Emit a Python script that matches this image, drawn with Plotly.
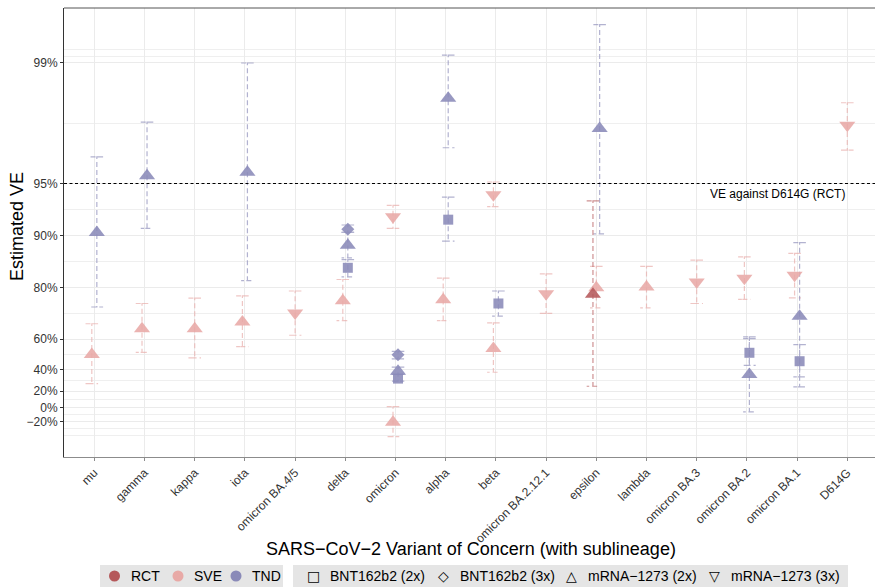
import numpy as np
import plotly.graph_objects as go

# ---- categories -------------------------------------------------------------
variants = ["mu", "gamma", "kappa", "iota", "omicron BA.4/5", "delta", "omicron",
            "alpha", "beta", "omicron BA.2.12.1", "epsilon", "lambda",
            "omicron BA.3", "omicron BA.2", "omicron BA.1", "D614G"]
study_types = ["RCT", "SVE", "TND"]
vaccines = ["BNT162b2 (2x)", "BNT162b2 (3x)", "mRNA\u22121273 (2x)", "mRNA\u22121273 (3x)"]

# ---- estimates (VE in %, lower / upper 95% CI) --------------------------------
est_variant = ["mu", "mu", "gamma", "gamma", "kappa", "iota", "iota", "omicron BA.4/5",
               "delta", "delta", "delta", "delta",
               "omicron", "omicron", "omicron", "omicron", "omicron",
               "alpha", "alpha", "alpha",
               "beta", "beta", "beta",
               "omicron BA.2.12.1",
               "epsilon", "epsilon", "epsilon",
               "lambda", "omicron BA.3",
               "omicron BA.2", "omicron BA.2", "omicron BA.2",
               "omicron BA.1", "omicron BA.1", "omicron BA.1",
               "D614G"]
est_study = ["SVE", "TND", "SVE", "TND", "SVE", "SVE", "TND", "SVE",
             "SVE", "TND", "TND", "TND",
             "SVE", "SVE", "TND", "TND", "TND",
             "SVE", "TND", "TND",
             "SVE", "SVE", "TND",
             "SVE",
             "RCT", "SVE", "TND",
             "SVE", "SVE",
             "SVE", "TND", "TND",
             "SVE", "TND", "TND",
             "SVE"]
est_vaccine = ["mRNA\u22121273 (2x)", "mRNA\u22121273 (2x)", "mRNA\u22121273 (2x)", "mRNA\u22121273 (2x)",
               "mRNA\u22121273 (2x)", "mRNA\u22121273 (2x)", "mRNA\u22121273 (2x)", "mRNA\u22121273 (3x)",
               "mRNA\u22121273 (2x)", "BNT162b2 (2x)", "BNT162b2 (3x)", "mRNA\u22121273 (2x)",
               "mRNA\u22121273 (3x)", "mRNA\u22121273 (2x)", "BNT162b2 (3x)", "mRNA\u22121273 (2x)", "BNT162b2 (2x)",
               "mRNA\u22121273 (2x)", "BNT162b2 (2x)", "mRNA\u22121273 (2x)",
               "mRNA\u22121273 (3x)", "mRNA\u22121273 (2x)", "BNT162b2 (2x)",
               "mRNA\u22121273 (3x)",
               "mRNA\u22121273 (2x)", "mRNA\u22121273 (2x)", "mRNA\u22121273 (2x)",
               "mRNA\u22121273 (2x)", "mRNA\u22121273 (3x)",
               "mRNA\u22121273 (3x)", "BNT162b2 (2x)", "mRNA\u22121273 (2x)",
               "mRNA\u22121273 (3x)", "mRNA\u22121273 (2x)", "BNT162b2 (2x)",
               "mRNA\u22121273 (3x)"]
est_ve = [51.0, 90.4, 65.2, 95.5, 65.2, 68.2, 95.7, 71.8,
          76.1, 84.6, 90.8, 88.6,
          92.2, -21.2, 50.8, 38.7, 32.4,
          76.4, 91.9, 98.4,
          94.2, 54.8, 75.2,
          78.2,
          78.1, 79.9, 97.6,
          80.1, 81.4,
          82.3, 52.1, 36.0,
          83.0, 70.6, 46.4,
          97.7]
est_lo = [27.7, 74.0, 52.4, 90.9, 48.7, 55.9, 81.7, 62.1,
          68.8, 82.6, 90.4, 86.5,
          90.9, -46.8, 48.0, 36.0, 30.0,
          68.8, 89.2, 96.9,
          93.2, 37.9, 70.6,
          71.7,
          25.1, 73.7, 90.2,
          73.7, 75.2,
          76.5, 43.4, -5.5,
          77.0, 24.5, 33.9,
          96.8]
est_hi = [67.5, 96.5, 75.2, 97.8, 76.9, 77.6, 99.0, 79.0,
          82.0, 86.2, 91.3, 90.4,
          93.3, 1.7, 53.0, 42.0, 36.0,
          82.3, 94.0, 99.1,
          95.1, 67.9, 79.0,
          83.3,
          93.7, 84.9, 99.4,
          84.9, 86.1,
          86.7, 61.3, 60.3,
          87.3, 89.0, 57.1,
          98.3]

# ---- axis breaks ----------------------------------------------------------------
ve_breaks = [-0.2, 0.0, 0.2, 0.4, 0.6, 0.8, 0.9, 0.95, 0.99]
ve_labels = ["\u221220%", "0%", "20%", "40%", "60%", "80%", "90%", "95%", "99%"]
rct_d614g = 0.95

# ---- styling --------------------------------------------------------------------
study_colors = {"RCT": "#B5585A", "SVE": "#E8A9A6", "TND": "#8A8AB8"}
vaccine_symbols = {"BNT162b2 (2x)": "square", "BNT162b2 (3x)": "diamond",
                   "mRNA\u22121273 (2x)": "triangle-up", "mRNA\u22121273 (3x)": "triangle-down"}
vaccine_sizes = {"BNT162b2 (2x)": 10, "BNT162b2 (3x)": 10,
                 "mRNA\u22121273 (2x)": 14, "mRNA\u22121273 (3x)": 14}
FONT = "Liberation Sans, Arial, Helvetica, sans-serif"

W, H = 875, 587
ML, MR, MT, MB = 64, 0, 8, 130
PW, PH = W - ML - MR, H - MT - MB

dodge_width = 0.2
cap_half = 0.125

# dodge positions per variant by study type
xpos = []
for v, s in zip(est_variant, est_study):
    present = [st for st in study_types if any(
        (vv == v and ss == st) for vv, ss in zip(est_variant, est_study))]
    n = len(present)
    k = present.index(s)
    xpos.append(variants.index(v) + (k - (n - 1) / 2) * dodge_width / n)

# the y axis is log-scaled on (1 - VE), reversed so that high VE is on top
def one_minus(p):
    return 1 - p / 100.0

fig = go.Figure()

# error bars (dashed, with caps, drawn as one path each like geom_errorbar)
for st in ["SVE", "TND", "RCT"]:
    xs, ys = [], []
    for i in range(len(est_ve)):
        if est_study[i] != st:
            continue
        x = xpos[i]
        hi, lo = one_minus(est_hi[i]), one_minus(est_lo[i])
        xs += [x - cap_half, x + cap_half, x, x, x - cap_half, x + cap_half, None]
        ys += [hi, hi, hi, lo, lo, lo, None]
    fig.add_trace(go.Scatter(x=xs, y=ys, mode="lines", opacity=0.65,
                             line=dict(color=study_colors[st], width=1.2, dash="5px,3px"),
                             hoverinfo="skip", showlegend=False))

# reference line: VE against D614G in the RCT
x_lo, x_hi = -0.604, 15.552
fig.add_trace(go.Scatter(x=[x_lo, x_hi], y=[1 - rct_d614g] * 2, mode="lines",
                         line=dict(color="black", width=1.1, dash="3px,2.5px"),
                         hoverinfo="skip", showlegend=False))

# point estimates
for st in ["SVE", "TND", "RCT"]:
    idx = [i for i in range(len(est_ve)) if est_study[i] == st]
    fig.add_trace(go.Scatter(
        x=[xpos[i] for i in idx],
        y=[one_minus(est_ve[i]) for i in idx],
        mode="markers",
        marker=dict(color=study_colors[st], opacity=0.88,
                    symbol=[vaccine_symbols[est_vaccine[i]] for i in idx],
                    size=[vaccine_sizes[est_vaccine[i]] for i in idx],
                    line=dict(width=0)),
        name=st, showlegend=False))

# minor breaks, placed the way ggplot2 does it (midpoints, extended one step)
t_major = -np.log10(1 - np.array(ve_breaks))
bd = t_major[1] - t_major[0]
t_ext = np.concatenate([[t_major[0] - bd], t_major, [t_major[-1] + bd]])
t_mid = (t_ext[:-1] + t_ext[1:]) / 2
minor_vals = list(10 ** (-t_mid)) + [10 ** (-t_ext[0]), 10 ** (-t_ext[-1])]

grid_col = "#EBEBEB"
fig.update_xaxes(range=[x_lo, x_hi], tickmode="array", tickvals=list(range(len(variants))),
                 ticktext=variants, tickangle=-45, ticks="outside", ticklen=3,
                 tickcolor="#8C8C8C", showline=True, linecolor="#8C8C8C", linewidth=1,
                 showgrid=True, gridcolor=grid_col, gridwidth=1, zeroline=False,
                 tickfont=dict(family=FONT, size=12, color="#333333"))
fig.update_yaxes(type="log", range=[0.2846, -2.3188], tickmode="array",
                 tickvals=[1 - b for b in ve_breaks], ticktext=ve_labels,
                 ticks="outside", ticklen=3, tickcolor="#333333",
                 showline=True, linecolor="#333333", linewidth=1,
                 showgrid=True, gridcolor=grid_col, gridwidth=1.1, zeroline=False,
                 minor=dict(tickvals=minor_vals, showgrid=True, gridcolor="#EFEFEF",
                            gridwidth=0.9, ticks=""),
                 tickfont=dict(family=FONT, size=12, color="#333333"))

# pixel -> paper helpers for items placed in the margins
def px(x):
    return (x - ML) / PW

def py(y):
    return (H - MB - y) / PH

annotations = [
    dict(text="VE against D614G (RCT)", xref="x", x=variants.index("D614G"), xanchor="right",
         yref="y", y=np.log10(1 - rct_d614g), yanchor="top", yshift=-1, showarrow=False,
         font=dict(family=FONT, size=12, color="black")),
    dict(text="SARS\u2212CoV\u22122 Variant of Concern (with sublineage)", xref="paper", x=px(471),
         yref="paper", y=py(549), xanchor="center", yanchor="middle", showarrow=False,
         font=dict(family=FONT, size=18, color="black")),
    dict(text="Estimated VE", xref="paper", x=px(17), yref="paper", y=py(227),
         xanchor="center", yanchor="middle", textangle=-90, showarrow=False,
         font=dict(family=FONT, size=18, color="black")),
]

shapes = [
    # top border of the panel
    dict(type="line", xref="paper", yref="paper", x0=0, x1=1, y0=1, y1=1,
         line=dict(color="#555555", width=1)),
]

# legends: study type (colour) and vaccine (shape)
leg_y = 576
shapes.append(dict(type="rect", xref="paper", yref="paper", x0=px(100), x1=px(283),
                   y0=py(590), y1=py(565), fillcolor="#E5E5E5", line=dict(width=0), layer="below"))
shapes.append(dict(type="rect", xref="paper", yref="paper", x0=px(293), x1=px(848),
                   y0=py(590), y1=py(565), fillcolor="#E5E5E5", line=dict(width=0), layer="below"))

study_key_x = [114.5, 178, 236]
for st, cx in zip(study_types, study_key_x):
    r = 5.5
    shapes.append(dict(type="circle", xref="paper", yref="paper",
                       x0=px(cx - r), x1=px(cx + r), y0=py(leg_y + r), y1=py(leg_y - r),
                       fillcolor=study_colors[st], line=dict(width=0)))
    annotations.append(dict(text=st, xref="paper", yref="paper", x=px(cx + 14), y=py(leg_y),
                            xanchor="left", yanchor="middle", showarrow=False,
                            font=dict(family=FONT, size=14, color="black")))

open_glyphs = {"BNT162b2 (2x)": "\u25A1", "BNT162b2 (3x)": "\u25C7",
               "mRNA\u22121273 (2x)": "\u25B3", "mRNA\u22121273 (3x)": "\u25BD"}
vacc_key_x = [313, 443, 571, 714]
for vac, cx in zip(vaccines, vacc_key_x):
    annotations.append(dict(text=open_glyphs[vac], xref="paper", yref="paper", x=px(cx), y=py(leg_y),
                            xanchor="center", yanchor="middle", showarrow=False,
                            font=dict(family="DejaVu Sans", size=14, color="black")))
    annotations.append(dict(text=vac, xref="paper", yref="paper", x=px(cx + 15), y=py(leg_y),
                            xanchor="left", yanchor="middle", showarrow=False,
                            font=dict(family=FONT, size=14, color="black")))

fig.update_layout(width=W, height=H, margin=dict(l=ML, r=MR, t=MT, b=MB),
                  paper_bgcolor="white", plot_bgcolor="white",
                  showlegend=False, annotations=annotations, shapes=shapes,
                  font=dict(family=FONT))

fig.write_html("out.html")
